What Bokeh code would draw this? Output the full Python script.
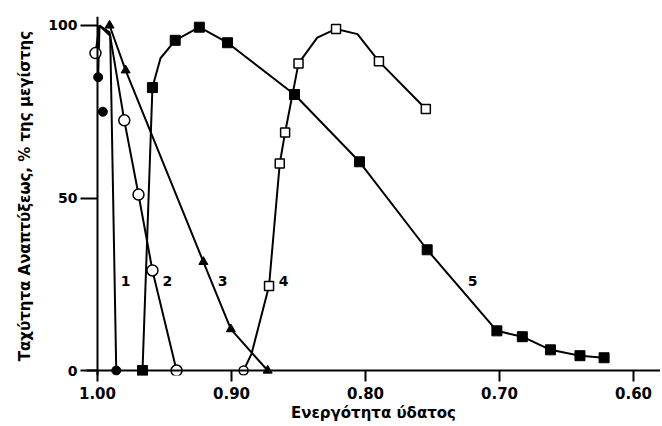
from bokeh.plotting import figure
from bokeh.models import Range1d, FixedTicker, Span
from bokeh.core.properties import value
from bokeh.embed import file_html
from bokeh.resources import INLINE

# ---- data ----
# curve 1 (filled circles)
c1_x = [0.9995, 0.996, 0.986]
c1_y = [85, 75, 0]
c1_path_x = [0.9995, 0.9985, 0.9905, 0.986]
c1_path_y = [85, 100, 97, 0]

# curve 2 (open circles)
c2_x = [1.0015, 0.980, 0.9694, 0.959, 0.941]
c2_y = [92, 72.5, 51, 29, 0]
c2_path_x = [1.0015, 0.9985, 0.991, 0.980, 0.9694, 0.959, 0.941]
c2_path_y = [92, 100, 98, 72.5, 51, 29, 0]

# curve 3 (filled triangles)
c3_x = [0.991, 0.979, 0.921, 0.9005, 0.873]
c3_y = [100, 87, 31.5, 12, 0]

# curve 4 (open squares; first point drawn as open circle)
c4_x = [0.891, 0.872, 0.864, 0.860, 0.850, 0.822, 0.790, 0.755]
c4_y = [0, 24.5, 60, 69, 89, 99, 89.6, 75.8]
c4_path_x = [0.891, 0.885, 0.872, 0.864, 0.860, 0.850, 0.836, 0.822, 0.806, 0.790, 0.755]
c4_path_y = [0, 4.9, 24.5, 60, 69, 89, 96.5, 99, 97.5, 89.6, 75.8]

# curve 5 (filled squares)
c5_x = [0.9664, 0.959, 0.942, 0.924, 0.903, 0.853, 0.8045, 0.754, 0.702, 0.683, 0.662, 0.640, 0.622]
c5_y = [0, 82, 95.7, 99.5, 95, 80, 60.5, 35, 11.5, 9.8, 6, 4.3, 3.7]
c5_path_x = [0.9664, 0.959, 0.953, 0.942, 0.924, 0.903, 0.853, 0.8045, 0.754, 0.702, 0.683, 0.662, 0.640, 0.622]
c5_path_y = [0, 82, 90.5, 95.7, 99.5, 95, 80, 60.5, 35, 11.5, 9.8, 6, 4.3, 3.7]

# curve number labels
label_text = ["1", "2", "3", "4", "5"]
label_x = [0.979, 0.9478, 0.9067, 0.8612, 0.7201]
label_y = [26, 26, 26, 26, 26]

x_ticks = [1.00, 0.90, 0.80, 0.70, 0.60]
x_tick_labels = ["1.00", "0.90", "0.80", "0.70", "0.60"]
y_ticks = [0, 50, 100]
y_tick_labels = ["0", "50", "100"]

x_title = "Ενεργότητα ύδατος"
y_title = "Ταχύτητα Αναπτύξεως, % της μεγίστης"

FONT = "DejaVu Sans"

p = figure(width=660, height=424,
           x_range=Range1d(1.0082, 0.5799), y_range=Range1d(-1.44, 102.6),
           output_backend="svg", toolbar_location=None,
           min_border_left=86, min_border_right=0, min_border_top=16, min_border_bottom=47)
p.outline_line_color = None
p.grid.visible = False
p.background_fill_color = "white"

for ax in (p.xaxis, p.yaxis):
    ax.axis_line_color = None
    ax.minor_tick_line_color = None
    ax.major_tick_line_color = "black"
    ax.major_tick_line_width = 2
    ax.major_label_text_font = FONT
    ax.major_label_text_font_style = "bold"
    ax.major_label_text_color = "black"
    ax.axis_label_text_font = FONT
    ax.axis_label_text_font_style = "bold"
    ax.axis_label_text_color = "black"

p.xaxis.ticker = FixedTicker(ticks=x_ticks)
p.xaxis.major_label_overrides = dict(zip(x_ticks, x_tick_labels))
p.xaxis.major_tick_in = 5
p.xaxis.major_tick_out = 6
p.xaxis.major_label_standoff = 5
p.xaxis.major_label_text_font_size = "15px"
p.xaxis.axis_label = x_title
p.xaxis.axis_label_text_font_size = "15px"
p.xaxis.axis_label_standoff = 2

p.yaxis.ticker = FixedTicker(ticks=y_ticks)
p.yaxis.major_label_overrides = dict(zip(y_ticks, y_tick_labels))
p.yaxis.major_tick_in = 11
p.yaxis.major_tick_out = 6
p.yaxis.major_label_standoff = 3
p.yaxis.major_label_text_font_size = "14px"
p.yaxis.axis_label = y_title
p.yaxis.axis_label_text_font_size = "15px"
p.yaxis.axis_label_standoff = 11

p.add_layout(Span(location=0, dimension="width", line_color="black", line_width=2))
p.add_layout(Span(location=1.0, dimension="height", line_color="black", line_width=2))

LW = 2
p.line(c1_path_x, c1_path_y, line_color="black", line_width=LW)
p.line(c2_path_x, c2_path_y, line_color="black", line_width=LW)
p.line(c3_x, c3_y, line_color="black", line_width=LW)
p.line(c4_path_x, c4_path_y, line_color="black", line_width=LW)
p.line(c5_path_x, c5_path_y, line_color="black", line_width=LW)

p.scatter(c1_x, c1_y, marker="circle", size=9, fill_color="black", line_color="black")
p.scatter(c2_x, c2_y, marker="circle", size=11, fill_color="white", line_color="black", line_width=1.5)
p.scatter(c3_x, c3_y, marker="triangle", size=9, fill_color="black", line_color="black")
p.scatter(c4_x[:1], c4_y[:1], marker="circle", size=9, fill_color="white", line_color="black", line_width=1.5)
p.scatter(c4_x[1:], c4_y[1:], marker="square", size=9, fill_color="white", line_color="black", line_width=1.5)
p.scatter(c5_x, c5_y, marker="square", size=10, fill_color="black", line_color="black")

p.text(x=label_x, y=label_y, text=label_text, text_font=value(FONT),
       text_font_size="14px", text_font_style="bold", text_color="black",
       text_align="center", text_baseline="middle")

open("out.html", "w").write(file_html(p, INLINE))
